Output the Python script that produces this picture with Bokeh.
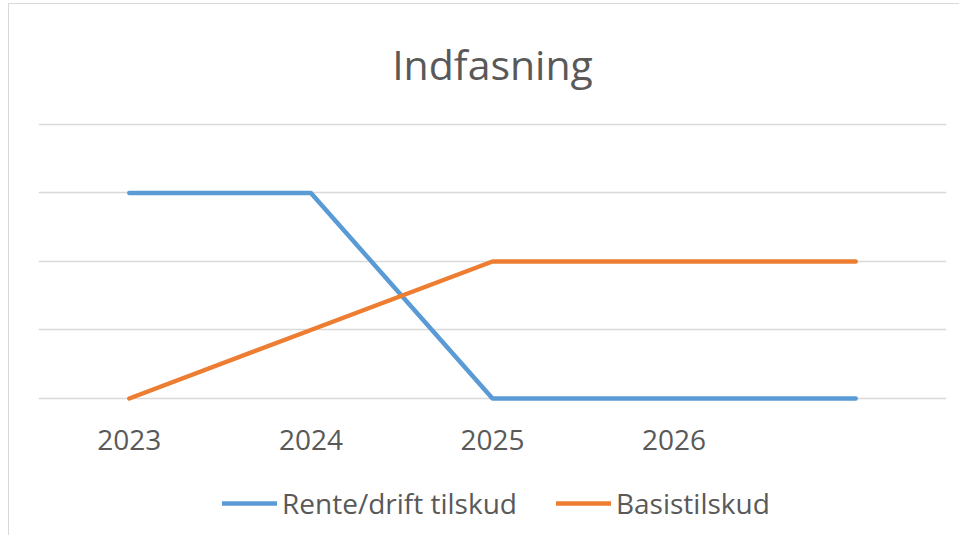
from bokeh.plotting import figure
from bokeh.models import FactorRange, Range1d, FixedTicker, Legend, LegendItem
from bokeh.core.properties import value
from bokeh.embed import file_html
from bokeh.resources import INLINE

# ---- data ----
categories = ["2023", "2024", "2025", "2026", " "]
rente_drift = [3, 3, 0, 0, 0]
basistilskud = [0, 1, 2, 2, 2]
y_ticks = [0, 1, 2, 3, 4]
series_names = ["Rente/drift tilskud", "Basistilskud"]

TEXT = "#595959"
FONT = "Open Sans"
LABEL_Y = -0.60  # baseline of the category labels (data units, below 0)

p = figure(
    frame_width=908, frame_height=415,
    x_range=FactorRange(*categories), y_range=Range1d(-2.0, 4.058),
    output_backend="svg", toolbar_location=None,
    min_border_left=29, min_border_right=13, min_border_top=110, min_border_bottom=0,
)
p.styles = {"margin-left": "8px", "margin-top": "3px",
            "border-left": "1px solid #d9d9d9", "border-top": "1px solid #d9d9d9"}
p.outline_line_color = None
p.background_fill_color = "white"
p.border_fill_color = "white"

p.title.text = "Indfasning"
p.title.text_font = FONT
p.title.text_font_size = "41px"
p.title.text_font_style = "normal"
p.title.text_color = TEXT
p.title.align = "center"
p.title.standoff = 58

p.yaxis.visible = False
p.yaxis.ticker = FixedTicker(ticks=y_ticks)
p.ygrid.grid_line_color = "#d9d9d9"
p.ygrid.grid_line_width = 1.5
p.xgrid.grid_line_color = None
p.xaxis.visible = False

# category labels below the baseline
p.text(x=categories, y=[LABEL_Y] * len(categories), text=categories,
       text_font=value(FONT), text_font_size="28px", text_color=TEXT,
       text_align="center", text_baseline="alphabetic")

r1 = p.line(x=categories, y=rente_drift, line_color="#5B9BD5", line_width=4.5, line_join="round", line_cap="round")
r2 = p.line(x=categories, y=basistilskud, line_color="#ED7D31", line_width=4.5, line_join="round", line_cap="round")

legend = Legend(
    items=[LegendItem(label=series_names[0], renderers=[r1]),
           LegendItem(label=series_names[1], renderers=[r2])],
    orientation="horizontal", location=(184, 13),
    label_text_font=FONT, label_text_font_size="28px", label_text_color=TEXT,
    glyph_width=55, glyph_height=20, label_standoff=5, spacing=39,
    border_line_color=None, background_fill_alpha=0, padding=0, margin=0,
)
p.add_layout(legend, "center")

open("out.html", "w").write(file_html(p, INLINE))
